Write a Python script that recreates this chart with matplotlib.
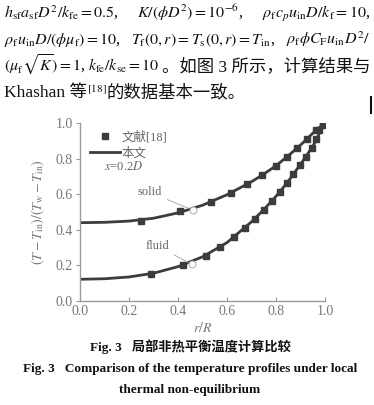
import matplotlib
matplotlib.use("Agg")
import matplotlib.pyplot as plt

plt.rcParams["font.family"] = ["Liberation Serif", "Noto Sans CJK SC", "DejaVu Sans"]
plt.rcParams["mathtext.fontset"] = "stix"

# data
r_line = [0.0, 0.1, 0.2, 0.3, 0.4, 0.5, 0.6, 0.7, 0.75, 0.8, 0.85, 0.9, 0.95, 0.975, 1.0]
solid_line = [0.44, 0.442, 0.449, 0.465, 0.495, 0.538, 0.597, 0.670, 0.713, 0.760, 0.816, 0.876, 0.942, 0.972, 1.0]
fluid_line = [0.122, 0.125, 0.135, 0.156, 0.193, 0.248, 0.328, 0.445, 0.513, 0.588, 0.672, 0.768, 0.868, 0.935, 1.0]

r_solid = [0.25, 0.41, 0.535, 0.616, 0.68, 0.741, 0.802, 0.843, 0.885, 0.928, 0.963, 0.993]
solid_pts = [0.45, 0.505, 0.555, 0.608, 0.655, 0.708, 0.76, 0.811, 0.861, 0.91, 0.96, 0.995]

r_fluid = [0.29, 0.42, 0.515, 0.572, 0.628, 0.673, 0.714, 0.75, 0.785, 0.816,
           0.843, 0.871, 0.898, 0.922, 0.946, 0.963, 0.977, 0.99]
fluid_pts = [0.15, 0.20, 0.255, 0.305, 0.36, 0.41, 0.461, 0.511, 0.56, 0.611,
             0.661, 0.712, 0.764, 0.811, 0.858, 0.91, 0.96, 0.99]

W, H = 374, 405
fig = plt.figure(figsize=(W / 100, H / 100), dpi=100)
renderer = fig.canvas.get_renderer()

MATH_SIZE = 11.5
CJK_SIZE = 12.5
TEXT_C = "#111111"


def put_line(y, segs, justify=True, x0=4, x1=370):
    """Lay out text segments on one baseline (pixel coords), optionally justified."""
    texts = []
    for s, size in segs:
        t = fig.text(0, 1 - y / H, s, fontsize=size, ha="left", va="baseline",
                     color=TEXT_C)
        texts.append(t)
    widths = [t.get_window_extent(renderer).width for t in texts]
    if justify and len(texts) > 1:
        gap = max((x1 - x0 - sum(widths)) / (len(texts) - 1), 1)
    else:
        gap = 0
    x = x0
    for t, w in zip(texts, widths):
        t.set_x(x / W)
        x += w + gap


put_line(18, [(r"$h_{\rm sf}a_{\rm sf}D^2/k_{\rm fe}=0.5$,", MATH_SIZE),
              (r"$K/(\phi D^2)=10^{-6}$,", MATH_SIZE),
              (r"$\rho_{\rm f}c_p u_{\rm in}D/k_{\rm f}=10$,", MATH_SIZE)])
put_line(44, [(r"$\rho_{\rm f}u_{\rm in}D/(\phi\mu_{\rm f})=10$,", MATH_SIZE),
              (r"$T_{\rm f}(0,r)=T_{\rm s}(0,r)=T_{\rm in}$,", MATH_SIZE),
              (r"$\rho_{\rm f}\phi C_{\rm F}u_{\rm in}D^2/$", MATH_SIZE)])
put_line(71, [(r"$(\mu_{\rm f}\sqrt{K})=1$,", MATH_SIZE),
              (r"$k_{\rm fe}/k_{\rm se}=10$", MATH_SIZE),
              ("。如图 3 所示，计算结果与", CJK_SIZE)])
put_line(97, [("Khashan 等", CJK_SIZE),
              (r"$^{[18]}$", MATH_SIZE),
              ("的数据基本一致。", CJK_SIZE)], justify=False)

fig.add_artist(plt.Line2D([371 / W, 371 / W], [1 - 97 / H, 1 - 113 / H],
                          color="#111111", lw=1.5))

# --- chart ---
ax = fig.add_axes([80 / W, 1 - 301 / H, 245 / W, 178 / H])
curve_c = "#3c3c3c"
axis_c = "#9a9a9a"

line_h, = ax.plot(r_line, solid_line, color=curve_c, lw=2.0)
ax.plot(r_line, fluid_line, color=curve_c, lw=2.0)
pts_h, = ax.plot(r_solid, solid_pts, "s", color=curve_c, ms=4, ls="none")
ax.plot(r_fluid, fluid_pts, "s", color=curve_c, ms=4, ls="none")

ax.annotate("solid", xy=(0.46, 0.511), xytext=(0.285, 0.61), fontsize=9,
            color="#666666", ha="center", va="center",
            arrowprops=dict(arrowstyle="-", color="#aaaaaa", lw=0.7, shrinkA=2, shrinkB=3))
ax.annotate("fluid", xy=(0.456, 0.206), xytext=(0.315, 0.31), fontsize=9,
            color="#666666", ha="center", va="center",
            arrowprops=dict(arrowstyle="-", color="#aaaaaa", lw=0.7, shrinkA=2, shrinkB=3))
ax.plot([0.46, 0.456], [0.511, 0.206], "o", mfc="white", mec="#aaaaaa", ms=5, mew=0.7)

ax.legend([pts_h, line_h], ["文献[18]", "本文"], loc="upper left",
          bbox_to_anchor=(0.02, 0.985), frameon=False, fontsize=9,
          handlelength=2.4, handletextpad=0.1, borderaxespad=0.0, labelspacing=0.35,
          labelcolor="#666666")
ax.text(0.098, 0.758, r"$x$=0.2$D$", fontsize=9, color="#666666", ha="left", va="center")

ax.set_xlim(0, 1.0)
ax.set_ylim(0, 1.0)
ax.set_xticks([0, 0.2, 0.4, 0.6, 0.8, 1.0])
ax.set_yticks([0, 0.2, 0.4, 0.6, 0.8, 1.0])
ax.xaxis.set_major_formatter(matplotlib.ticker.FormatStrFormatter("%.1f"))
ax.yaxis.set_major_formatter(matplotlib.ticker.FormatStrFormatter("%.1f"))
for side in ("top", "right"):
    ax.spines[side].set_visible(False)
for side in ("left", "bottom"):
    ax.spines[side].set_color(axis_c)
    ax.spines[side].set_linewidth(1.0)
ax.tick_params(axis="x", direction="in", length=3, colors=axis_c, labelcolor="#777777",
               labelsize=10, pad=3)
ax.tick_params(axis="y", direction="out", length=3, colors=axis_c, labelcolor="#777777",
               labelsize=10, pad=2)
ax.set_xlabel(r"$r/R$", fontsize=10, color="#777777", labelpad=2)
ax.set_ylabel(r"$(T-T_{\rm in})/(T_{\rm w}-T_{\rm in})$", fontsize=10, color="#777777",
              labelpad=6)

# --- caption ---
fig.text(190 / W, 1 - 347 / H, "Fig. 3   局部非热平衡温度计算比较", fontsize=9.5,
         fontweight="bold", ha="center", va="center", color=TEXT_C)
fig.text(190 / W, 1 - 369 / H, "Fig. 3   Comparison of the temperature profiles under local",
         fontsize=9.5, fontweight="bold", ha="center", va="center", color=TEXT_C)
fig.text(190 / W, 1 - 390 / H, "thermal non-equilibrium", fontsize=9.5, fontweight="bold",
         ha="center", va="center", color=TEXT_C)

fig.savefig("out.png", dpi=100)
